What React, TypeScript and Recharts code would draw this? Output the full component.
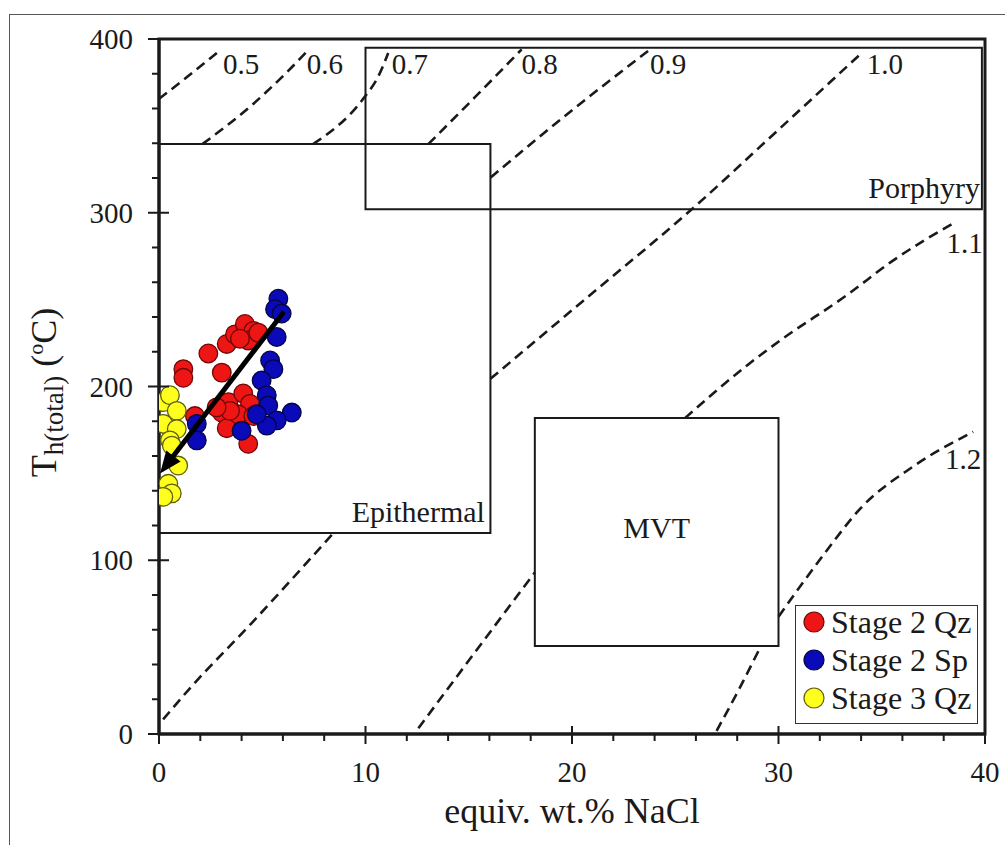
import React from 'react';
import { ComposedChart, XAxis, YAxis, Scatter, Line, ReferenceArea, ReferenceLine, Legend } from 'recharts';

const FONT = '"Liberation Serif", "Times New Roman", Times, serif';
const INK = '#1a1a1a';

// ---- axis ticks ----
const xTicks = [0, 2, 4, 6, 8, 10, 12, 14, 16, 18, 20, 22, 24, 26, 28, 30, 32, 34, 36, 38, 40];
const xMajor = [0, 10, 20, 30, 40];
const yTicks = [0, 20, 40, 60, 80, 100, 120, 140, 160, 180, 200, 220, 240, 260, 280, 300, 320, 340, 360, 380, 400];
const yMajor = [0, 100, 200, 300, 400];

// ---- fluid inclusion data (salinity, Th) ----
const stage2Qz = [
  { x: 1.18, y: 210 }, { x: 1.18, y: 205 }, { x: 2.39, y: 219 }, { x: 3.28, y: 224.5 },
  { x: 3.68, y: 230 }, { x: 4.16, y: 236 }, { x: 4.57, y: 232 }, { x: 4.32, y: 226.5 },
  { x: 3.92, y: 227.5 }, { x: 4.81, y: 231 }, { x: 3.04, y: 208 }, { x: 1.74, y: 183 },
  { x: 3.36, y: 191 }, { x: 4.08, y: 196 }, { x: 4.41, y: 190 }, { x: 3.04, y: 185 },
  { x: 3.28, y: 176 }, { x: 3.84, y: 184 }, { x: 4.32, y: 167 }, { x: 4.57, y: 183 },
  { x: 3.44, y: 186 }, { x: 2.79, y: 188 },
];
const stage2Sp = [
  { x: 5.78, y: 250.5 }, { x: 5.62, y: 244.5 }, { x: 5.94, y: 242 }, { x: 5.7, y: 228.5 },
  { x: 5.38, y: 215 }, { x: 5.54, y: 210 }, { x: 4.97, y: 203.5 }, { x: 5.22, y: 195 },
  { x: 5.29, y: 189 }, { x: 6.43, y: 185 }, { x: 5.7, y: 180.5 }, { x: 5.22, y: 177.5 },
  { x: 4.0, y: 174.5 }, { x: 1.83, y: 178.5 }, { x: 1.83, y: 169 }, { x: 4.73, y: 184 },
];
const stage3Qz = [
  { x: 0.21, y: 191 }, { x: 0.53, y: 195 }, { x: 0.86, y: 186 }, { x: 0.21, y: 178.5 },
  { x: 0.86, y: 175.5 }, { x: 0.53, y: 169 }, { x: 0.62, y: 166 }, { x: 0.93, y: 154.5 },
  { x: 0.45, y: 144 }, { x: 0.62, y: 138.5 }, { x: 0.21, y: 136.5 },
];

// ---- trend arrow (start -> tip) ----
const trendArrow = [{ x: 6.05, y: 243 }, { x: 0.05, y: 150 }];

// ---- density isochores (g/cm3); null = hidden behind a field box ----
const iso05 = [{ x: 0, y: 365.5 }, { x: 1.4, y: 378.5 }, { x: 2.8, y: 392 }];
const iso06 = [{ x: 2.1, y: 339.5 }, { x: 4.5, y: 362 }, { x: 6.2, y: 381 }, { x: 7.1, y: 392 }];
const iso07 = [{ x: 7.46, y: 339.5 }, { x: 9.98, y: 367 }, { x: 10.6, y: 378 }, { x: 11.1, y: 392 }];
const iso08 = [{ x: 13.04, y: 339.5 }, { x: 15.3, y: 366.5 }, { x: 17.56, y: 394 }];
const iso09 = [{ x: 16.06, y: 320.3 }, { x: 19.9, y: 358 }, { x: 23.78, y: 394 }];
const iso10 = [
  { x: 0.2, y: 8.4 }, { x: 1.42, y: 25.3 }, { x: 4.5, y: 64 }, { x: 8.45, y: 115.7 },
  { x: 12, y: null },
  { x: 16.05, y: 204.4 }, { x: 20.55, y: 249.4 }, { x: 25.8, y: 302 }, { x: 30, y: 347.8 }, { x: 34.03, y: 392 },
];
const iso11 = [
  { x: 12.56, y: 3.3 }, { x: 15.3, y: 47 }, { x: 18.2, y: 93 },
  { x: 22, y: null },
  { x: 25.47, y: 181.8 }, { x: 28.46, y: 212 }, { x: 30.07, y: 226.4 }, { x: 33.3, y: 252.5 },
  { x: 35.56, y: 272.6 }, { x: 38.47, y: 294 },
];
const iso12 = [
  { x: 27.0, y: 1.8 }, { x: 28.1, y: 26 }, { x: 29.15, y: 50.7 },
  { x: 29.6, y: null },
  { x: 30.0, y: 67.5 }, { x: 31.2, y: 87.4 }, { x: 32.33, y: 105.5 }, { x: 33.95, y: 129.6 },
  { x: 36.5, y: 153.8 }, { x: 39.43, y: 173.9 },
];
const isoLabels = [
  { x: 3.1, y: 385.5, label: '0.5' },
  { x: 7.15, y: 385.5, label: '0.6' },
  { x: 11.27, y: 385.5, label: '0.7' },
  { x: 17.56, y: 385.5, label: '0.8' },
  { x: 23.78, y: 385.5, label: '0.9' },
  { x: 34.27, y: 385.5, label: '1.0' },
  { x: 38.14, y: 282.6, label: '1.1' },
  { x: 38.06, y: 158.5, label: '1.2' },
];

// ---- deposit-type fields ----
const porphyryField = { x1: 10, x2: 39.85, y1: 302, y2: 395 };
const epithermalField = { x1: 0, x2: 16.05, y1: 115.7, y2: 339.5 };
const mvtField = { x1: 18.2, x2: 30, y1: 50.7, y2: 181.8 };

const seriesStyles = [
  { name: 'Stage 2 Qz', fill: '#ee1515', stroke: '#6e0808' },
  { name: 'Stage 2 Sp', fill: '#0a0ab8', stroke: '#050540' },
  { name: 'Stage 3 Qz', fill: '#ffff1e', stroke: '#5e5e0e' },
];

const makeDot = (fill: string, stroke: string) => (p: any) =>
  <circle cx={p.cx} cy={p.cy} r={9.3} fill={fill} stroke={stroke} strokeWidth={1.3} />;

const XTick = (props: any) => {
  const { x, y, payload } = props;
  const v = payload.value;
  const major = xMajor.includes(v);
  return (
    <g>
      <line x1={x} x2={x} y1={major ? y - 8 : y} y2={y + (major ? 10 : 7)} stroke={INK} strokeWidth={2} />
      {major && (
        <text x={x} y={y + 48} textAnchor="middle" fontFamily={FONT} fontSize={29} fill={INK}>{v}</text>
      )}
    </g>
  );
};

const YTick = (props: any) => {
  const { x, y, payload } = props;
  const v = payload.value;
  const major = yMajor.includes(v);
  return (
    <g>
      <line x1={x - (major ? 11 : 7)} x2={major ? x + 10 : x} y1={y} y2={y} stroke={INK} strokeWidth={2} />
      {major && (
        <text x={x - 26} y={y} dy="0.35em" textAnchor="end" fontFamily={FONT} fontSize={29} fill={INK}>{v}</text>
      )}
    </g>
  );
};

const XTitle = (props: any) => {
  const vb = props.viewBox;
  return (
    <text x={vb.x + vb.width / 2} y={vb.y + 89} textAnchor="middle" fontFamily={FONT} fontSize={36} fill={INK}>
      equiv. wt.% NaCl
    </text>
  );
};

const YTitle = (props: any) => {
  const vb = props.viewBox;
  const cx = vb.x - 43;
  const cy = vb.y + vb.height / 2 + 6;
  return (
    <text transform={`rotate(-90 ${cx} ${cy})`} x={cx} y={cy} textAnchor="middle" fontFamily={FONT} fontSize={36} fill={INK}>
      <tspan>T</tspan>
      <tspan fontSize={27} dy={7}>h(total)</tspan>
      <tspan dy={-7}> (</tspan>
      <tspan fontSize={22} dy={-13}>o</tspan>
      <tspan dy={13}>C)</tspan>
    </text>
  );
};

const IsoLabel = (p: any) => (
  <text x={p.cx} y={p.cy} dy="0.35em" textAnchor="start" fontFamily={FONT} fontSize={29} fill={INK}>
    {p.payload.label}
  </text>
);

const boxLabel = (text: string, where: 'br' | 'c', dx: number, dy: number) => (p: any) => {
  const vb = p.viewBox;
  if (where === 'c') {
    return (
      <text x={vb.x + vb.width / 2 + dx} y={vb.y + vb.height / 2 + dy} dy="0.35em" textAnchor="middle" fontFamily={FONT} fontSize={30} fill={INK}>
        {text}
      </text>
    );
  }
  return (
    <text x={vb.x + vb.width - dx} y={vb.y + vb.height - dy} textAnchor="end" fontFamily={FONT} fontSize={30} fill={INK}>
      {text}
    </text>
  );
};

const ArrowShape = (p: any) => {
  const { x1, y1, x2, y2 } = p;
  const dx = x2 - x1;
  const dy = y2 - y1;
  const len = Math.hypot(dx, dy) || 1;
  const ux = dx / len;
  const uy = dy / len;
  const headLen = 22;
  const headW = 9;
  const bx = x2 - ux * headLen;
  const by = y2 - uy * headLen;
  const px = -uy;
  const py = ux;
  return (
    <g>
      <line x1={x1} y1={y1} x2={bx + ux * 3} y2={by + uy * 3} stroke="#000" strokeWidth={5} />
      <polygon points={`${x2},${y2} ${bx + px * headW},${by + py * headW} ${bx - px * headW},${by - py * headW}`} fill="#000" />
    </g>
  );
};

const LegendBox = () => (
  <div
    style={{
      position: 'relative', width: 183, height: 119, boxSizing: 'border-box',
      border: '1.3px solid #333', background: '#fff', fontFamily: FONT, fontSize: 32, color: INK,
    }}
  >
    {seriesStyles.map((s, i) => (
      <div key={s.name} style={{ position: 'absolute', left: 0, top: -3 + i * 38, width: 180, height: 38, lineHeight: '38px', whiteSpace: 'nowrap' }}>
        <svg width={22} height={22} style={{ position: 'absolute', left: 7, top: 8 }}>
          <circle cx={11} cy={11} r={10} fill={s.fill} stroke={s.stroke} strokeWidth={1.2} />
        </svg>
        <span style={{ position: 'absolute', left: 35, top: 0 }}>{s.name}</span>
      </div>
    ))}
  </div>
);

const dash = { stroke: INK, strokeWidth: 2.6, strokeDasharray: '10 6' };
const isoLines = [iso05, iso06, iso07, iso08, iso09, iso10, iso11, iso12];

export default function App() {
  return (
    <div style={{ position: 'absolute', left: 0, top: 0, width: 1005, height: 845, background: '#fff', overflow: 'hidden' }}>
      <div style={{ position: 'absolute', left: 9, top: 14, width: 1100, height: 900, borderLeft: '1.5px solid #555', borderTop: '1.5px solid #555' }} />
      <ComposedChart width={1005} height={845} margin={{ top: 39, right: 20, bottom: 71, left: 99 }}>
        <XAxis
          type="number" dataKey="x" domain={[0, 40]} ticks={xTicks} interval={0}
          tickSize={0} tickMargin={0} tickLine={false} tick={XTick}
          axisLine={{ stroke: INK, strokeWidth: 3 }} height={40} allowDataOverflow label={XTitle}
        />
        <YAxis
          type="number" dataKey="y" domain={[0, 400]} ticks={yTicks} interval={0}
          tickSize={0} tickMargin={0} tickLine={false} tick={YTick}
          axisLine={{ stroke: INK, strokeWidth: 3 }} width={60} allowDataOverflow label={YTitle}
        />
        <ReferenceArea x1={0} x2={40} y1={0} y2={400} fill="none" stroke={INK} strokeWidth={3} />
        <ReferenceArea {...porphyryField} fill="none" stroke={INK} strokeWidth={2} label={boxLabel('Porphyry', 'br', 2, 11.5)} />
        <ReferenceArea {...epithermalField} fill="none" stroke={INK} strokeWidth={2} label={boxLabel('Epithermal', 'br', 5.5, 11)} />
        <ReferenceArea {...mvtField} fill="none" stroke={INK} strokeWidth={2} label={boxLabel('MVT', 'c', 0, -5)} />
        {isoLines.map((d, i) => (
          <Line
            key={`iso${i}`} data={d} dataKey="y" type="monotone" {...dash} dot={false} activeDot={false}
            connectNulls={false} isAnimationActive={false} legendType="none"
          />
        ))}
        <Scatter data={isoLabels} dataKey="y" shape={IsoLabel} isAnimationActive={false} legendType="none" />
        <Scatter name="Stage 2 Qz" data={stage2Qz} dataKey="y" shape={makeDot(seriesStyles[0].fill, seriesStyles[0].stroke)} isAnimationActive={false} />
        <Scatter name="Stage 2 Sp" data={stage2Sp} dataKey="y" shape={makeDot(seriesStyles[1].fill, seriesStyles[1].stroke)} isAnimationActive={false} />
        <Scatter name="Stage 3 Qz" data={stage3Qz} dataKey="y" shape={makeDot(seriesStyles[2].fill, seriesStyles[2].stroke)} isAnimationActive={false} />
        <ReferenceLine segment={trendArrow} shape={ArrowShape} zIndex={1500} />
        <Legend
          layout="vertical" align="center" verticalAlign="middle"
          wrapperStyle={{ left: 795, top: 605, width: 183, height: 119 }}
          content={() => <LegendBox />}
        />
      </ComposedChart>
    </div>
  );
}
